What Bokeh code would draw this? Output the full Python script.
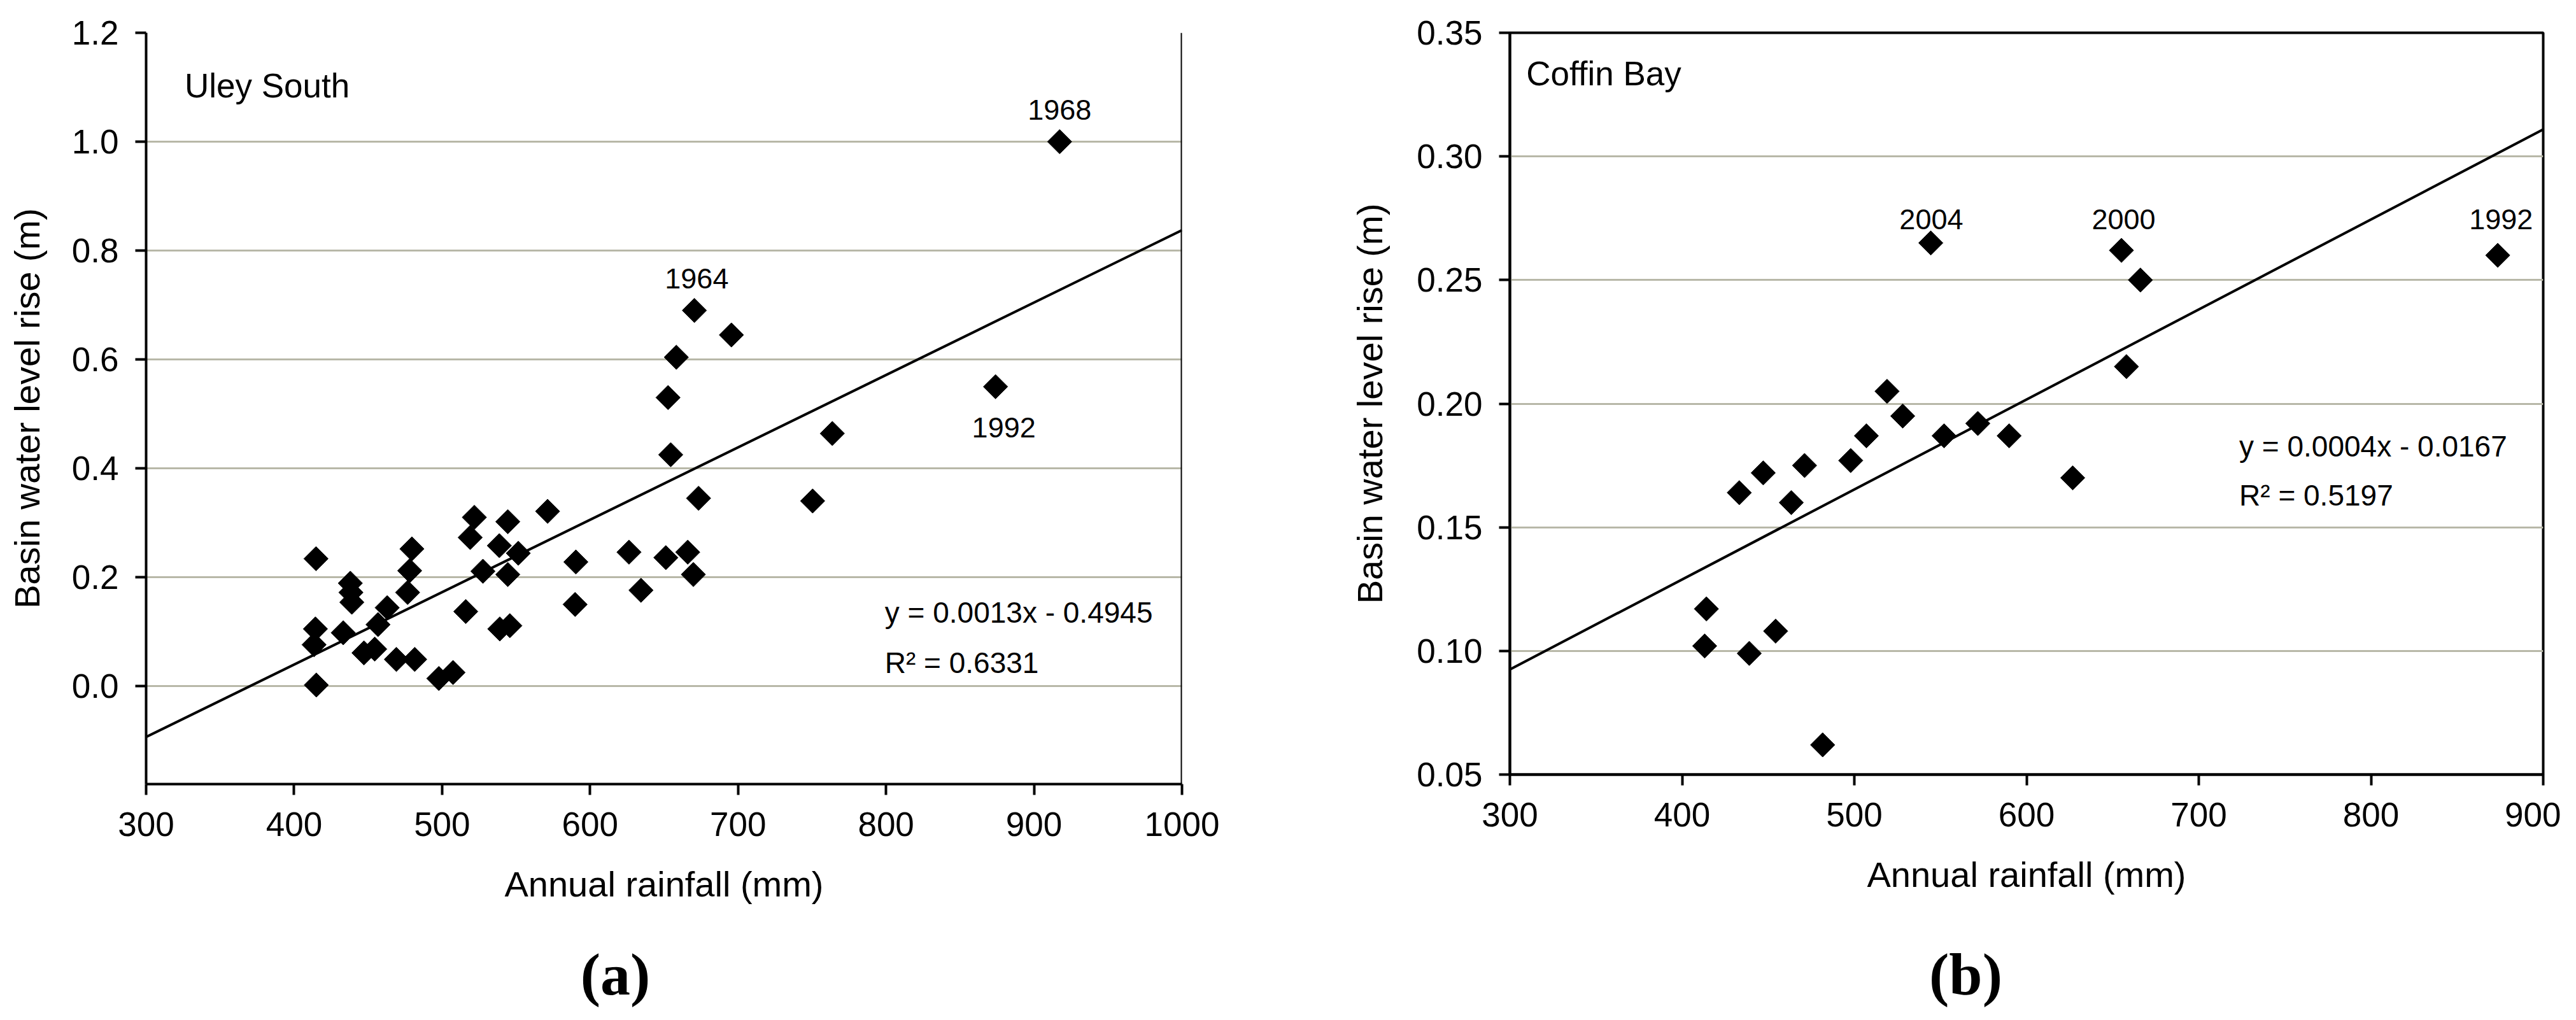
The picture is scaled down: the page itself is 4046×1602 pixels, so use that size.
from bokeh.plotting import figure
from bokeh.layouts import row, column
from bokeh.models import Range1d, FixedTicker, Span, PrintfTickFormatter, ColumnDataSource
from bokeh.core.properties import value
from bokeh.embed import file_html
from bokeh.resources import INLINE

FONT = "Liberation Sans"

# ---------------- Panel (a) Uley South ----------------
a_rain = [414.8, 414.4, 413.5, 415.0, 433.2, 438.0, 438.4, 439.0, 447.2, 454.5,
          456.7, 462.9, 469.1, 481.5, 479.6, 478.1, 476.7, 497.8, 507.4, 516.0,
          519.0, 521.8, 527.6, 539.0, 545.8, 538.7, 544.4, 544.4, 551.5, 571.3,
          590.4, 589.9, 626.3, 634.4, 651.2, 666.0, 669.8, 673.3, 654.5, 652.7,
          658.3, 670.5, 695.5, 750.4, 763.7, 874.0, 917.3]
a_rise = [0.234, 0.105, 0.076, 0.002, 0.098, 0.189, 0.172, 0.154, 0.061, 0.068,
          0.113, 0.144, 0.049, 0.049, 0.252, 0.212, 0.172, 0.014, 0.025, 0.137,
          0.273, 0.310, 0.211, 0.105, 0.111, 0.258, 0.302, 0.205, 0.244, 0.321,
          0.228, 0.150, 0.246, 0.176, 0.236, 0.246, 0.205, 0.345, 0.425, 0.530,
          0.604, 0.690, 0.645, 0.340, 0.464, 0.550, 1.000]
a_slope, a_intercept = 0.00133, -0.4925
a_years = ["1968", "1964", "1992"]
a_year_x = [917.3, 672.1, 879.6]
a_year_y = [1.058, 0.749, 0.475]
a_eq = ["y = 0.0013x - 0.4945", "R\u00b2 = 0.6331"]
a_eq_x = [799.2, 799.2]
a_eq_y = [0.135, 0.043]
a_name = "Uley South"
a_name_xy = (326.0, 1.103)
a_xticks = [300, 400, 500, 600, 700, 800, 900, 1000]
a_yticks = [0.0, 0.2, 0.4, 0.6, 0.8, 1.0, 1.2]
a_xlim = (300, 1000)
a_ylim = (-0.18, 1.2)
a_tag = "(a)"

# ---------------- Panel (b) Coffin Bay ----------------
b_rain = [414.1, 413.1, 433.2, 439.0, 447.1, 454.3, 463.4, 471.1, 481.6, 497.9,
          507.0, 519.0, 528.1, 544.4, 552.1, 571.7, 589.9, 626.8, 655.1, 666.1,
          658.0, 873.6]
b_rise = [0.117, 0.102, 0.164, 0.099, 0.172, 0.108, 0.160, 0.175, 0.062, 0.177,
          0.187, 0.205, 0.195, 0.265, 0.187, 0.192, 0.187, 0.170, 0.262, 0.250,
          0.215, 0.260]
b_slope, b_intercept = 0.000364, -0.0167
b_years = ["2004", "2000", "1992"]
b_year_x = [544.7, 656.4, 875.5]
b_year_y = [0.2746, 0.2746, 0.2746]
b_eq = ["y = 0.0004x - 0.0167", "R\u00b2 = 0.5197"]
b_eq_x = [723.5, 723.5]
b_eq_y = [0.1827, 0.1629]
b_name = "Coffin Bay"
b_name_xy = (309.5, 0.3336)
b_xticks = [300, 400, 500, 600, 700, 800, 900]
b_yticks = [0.05, 0.10, 0.15, 0.20, 0.25, 0.30, 0.35]
b_xlim = (300, 900)
b_ylim = (0.05, 0.35)
b_tag = "(b)"

MAIN_H = 1436
TAG_H = 150


def panel(rain, rise, slope, intercept, years, yx, yy, eq, eqx, eqy, name, name_xy,
          xticks, yticks, xlim, ylim, yfmt, geom):
    (fw, fh, bl, bt, br, ylab_standoff) = geom
    bb = MAIN_H - fh - bt
    p = figure(width=fw + bl + br, height=MAIN_H, frame_width=fw, frame_height=fh,
               min_border_left=bl, min_border_top=bt, min_border_right=br, min_border_bottom=bb,
               x_range=Range1d(*xlim), y_range=Range1d(*ylim),
               output_backend="svg", toolbar_location=None,
               background_fill_color="white", border_fill_color="white")
    p.xaxis.axis_label = "Annual rainfall (mm)"
    p.yaxis.axis_label = "Basin water level rise (m)"
    p.xaxis.ticker = FixedTicker(ticks=xticks)
    p.yaxis.ticker = FixedTicker(ticks=yticks)
    p.yaxis.formatter = PrintfTickFormatter(format=yfmt)
    for ax in (p.xaxis[0], p.yaxis[0]):
        ax.axis_line_color = "black"
        ax.axis_line_width = 4
        ax.major_tick_line_color = "black"
        ax.major_tick_line_width = 4
        ax.major_tick_out = 17
        ax.major_tick_in = 0
        ax.minor_tick_line_color = None
        ax.major_label_text_font = FONT
        ax.major_label_text_font_size = "53px"
        ax.major_label_text_color = "black"
        ax.axis_label_text_font = FONT
        ax.axis_label_text_font_size = "56px"
        ax.axis_label_text_font_style = "normal"
        ax.axis_label_text_color = "black"
    p.xaxis.major_label_standoff = 27
    p.yaxis.major_label_standoff = 26
    p.xaxis.axis_label_standoff = 41
    p.yaxis.axis_label_standoff = ylab_standoff
    p.xgrid.grid_line_color = None
    p.ygrid.grid_line_color = "#b8b8a8"
    p.ygrid.grid_line_width = 3

    # trend line across the full x axis
    tx = [xlim[0], xlim[1]]
    ty = [slope * v + intercept for v in tx]
    p.line(tx, ty, line_color="black", line_width=4)

    src = ColumnDataSource(dict(x=rain, y=rise))
    p.scatter("x", "y", source=src, marker="square", size=27, angle=0.785398,
              fill_color="black", line_color="black")

    p.text(x=yx, y=yy, text=years, text_font=value(FONT), text_font_size="45px",
           text_align="center", text_baseline="middle", text_color="black")
    p.text(x=eqx, y=eqy, text=eq, text_font=value(FONT), text_font_size="46px",
           text_align="left", text_baseline="middle", text_color="black")
    p.text(x=[name_xy[0]], y=[name_xy[1]], text=[name], text_font=value(FONT),
           text_font_size="53px", text_align="left", text_baseline="middle", text_color="black")
    return p


def tag_fig(width, tag, cx, cy):
    t = figure(width=width, height=TAG_H, x_range=Range1d(0, width), y_range=Range1d(0, TAG_H),
               min_border=0, output_backend="svg", toolbar_location=None,
               background_fill_color="white", border_fill_color="white")
    t.axis.visible = False
    t.grid.grid_line_color = None
    t.outline_line_color = None
    t.text(x=[cx], y=[cy], text=[tag], text_font=value("Liberation Serif"),
           text_font_size="94px", text_font_style="bold", text_align="center",
           text_baseline="middle", text_color="black")
    return t


pa = panel(a_rain, a_rise, a_slope, a_intercept, a_years, a_year_x, a_year_y,
           a_eq, a_eq_x, a_eq_y, a_name, a_name_xy, a_xticks, a_yticks, a_xlim, a_ylim,
           "%.1f", (1627, 1180, 229, 40, 159, 36))
pa.outline_line_color = None
pa.add_layout(Span(location=1000, dimension="height", line_color="black", line_width=4))

pb = panel(b_rain, b_rise, b_slope, b_intercept, b_years, b_year_x, b_year_y,
           b_eq, b_eq_x, b_eq_y, b_name, b_name_xy, b_xticks, b_yticks, b_xlim, b_ylim,
           "%.2f", (1623, 1165, 356, 51, 28, 39))
pb.outline_line_color = "black"
pb.outline_line_width = 4

ta = tag_fig(2015, a_tag, 966, 57)
tb = tag_fig(2007, b_tag, 1072, 57)

layout = column(row(pa, pb), row(ta, tb))
open("out.html", "w").write(file_html(layout, INLINE))
